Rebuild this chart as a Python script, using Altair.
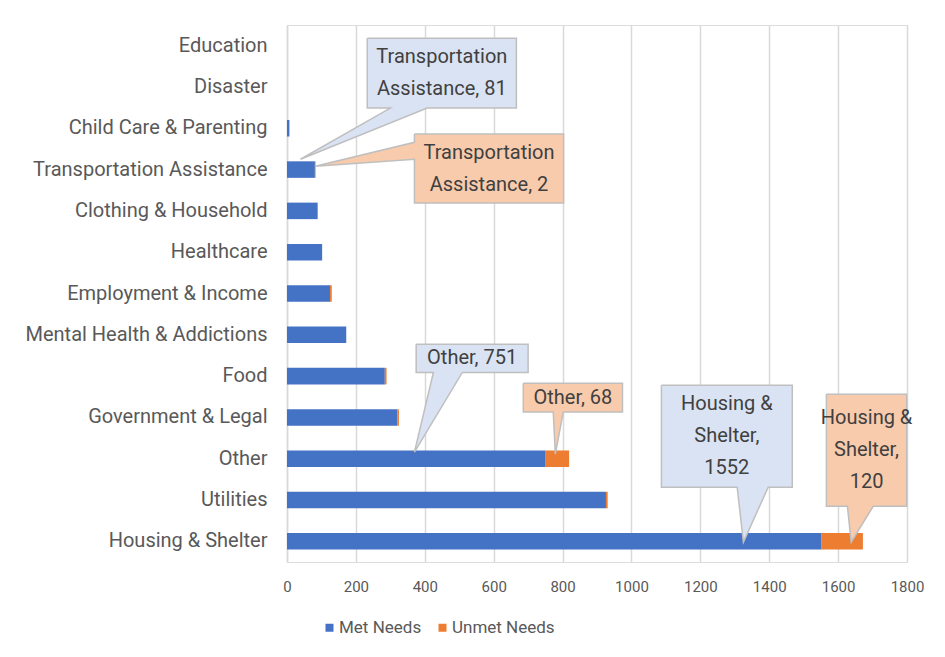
import altair as alt
import pandas as pd

# ---------------- data ----------------
categories = [
    "Education", "Disaster", "Child Care & Parenting", "Transportation Assistance",
    "Clothing & Household", "Healthcare", "Employment & Income",
    "Mental Health & Addictions", "Food", "Government & Legal", "Other",
    "Utilities", "Housing & Shelter",
]
met_needs = [0, 0, 7, 81, 89, 102, 125, 172, 284, 320, 751, 926, 1552]
unmet_needs = [0, 0, 0, 2, 0, 0, 5, 0, 5, 5, 68, 5, 120]
series = ["Met Needs", "Unmet Needs"]
series_colors = ["#4472C4", "#ED7D31"]
x_ticks = [0, 200, 400, 600, 800, 1000, 1200, 1400, 1600, 1800]

# callouts (annotation geometry in data units: x value, category row index)
callout_text = [
    "Transportation\nAssistance, 81",
    "Transportation\nAssistance, 2",
    "Other, 751",
    "Other, 68",
    "Housing &\nShelter,\n1552",
    "Housing &\nShelter,\n120",
]
callout_series = [0, 1, 0, 1, 0, 1]
callout_fill = ["#DAE3F3", "#F8CBAD"]
# box: x0, x1, row0, row1
callout_box = [
    (233, 666, -0.18, 1.51),
    (370, 803, 2.14, 3.81),
    (375, 700, 7.23, 7.91),
    (686, 974, 8.17, 8.87),
    (1087, 1467, 8.22, 10.69),
    (1566, 1799, 8.44, 11.15),
]
# pointer: side ("bottom" or "left"), base a, base b, tip x, tip row
callout_ptr = [
    ("bottom", 300, 407, 39, 2.75),
    ("left", 2.34, 2.75, 82, 2.92),
    ("bottom", 425, 509, 370, 9.84),
    ("bottom", 773, 802, 779, 9.89),
    ("bottom", 1307, 1397, 1325, 12.02),
    ("bottom", 1627, 1702, 1638, 12.02),
]

FONT = "Roboto"
TXT = "#595959"
PLOT_H = 537
ROW_PX = PLOT_H / len(categories)
LINE_H = 32

# ---------------- tables ----------------
rows = []
for i, c in enumerate(categories):
    rows.append({"category": c, "series": series[0], "sidx": 0, "value": met_needs[i]})
    rows.append({"category": c, "series": series[1], "sidx": 1, "value": unmet_needs[i]})
bar_df = pd.DataFrame(rows)

poly_rows = []
text_rows = []
for cid, (box, ptr) in enumerate(zip(callout_box, callout_ptr)):
    x0, x1, r0, r1 = box
    side, a, b, tx, tr = ptr
    if side == "bottom":
        pts = [(x0, r0), (x1, r0), (x1, r1), (b, r1), (tx, tr), (a, r1), (x0, r1), (x0, r0)]
    else:
        pts = [(x0, r0), (x1, r0), (x1, r1), (x0, r1), (x0, b), (tx, tr), (x0, a), (x0, r0)]
    for k, (px, pr) in enumerate(pts):
        poly_rows.append({"cid": cid, "k": k, "px": px, "prow": pr,
                          "fillc": callout_fill[callout_series[cid]]})
    n_lines = callout_text[cid].count("\n") + 1
    text_rows.append({"cid": cid, "tx": (x0 + x1) / 2,
                      "trow": (r0 + r1) / 2 - (n_lines - 1) * (LINE_H / 2) / ROW_PX,
                      "label": callout_text[cid]})
poly_df = pd.DataFrame(poly_rows)
text_df = pd.DataFrame(text_rows)

# ---------------- chart ----------------
x_scale = alt.Scale(domain=[0, 1800], nice=False)
row_scale = alt.Scale(domain=[-0.5, len(categories) - 0.5], reverse=True, nice=False, zero=False)

bars = alt.Chart(bar_df).mark_bar().encode(
    y=alt.Y("category:N", sort=categories, title=None,
            scale=alt.Scale(paddingInner=0.6, paddingOuter=0.3),
            axis=alt.Axis(labelFontSize=20, labelColor=TXT, labelFont=FONT,
                          labelPadding=20, ticks=False, domain=True,
                          domainColor="#D9D9D9", domainWidth=1.5, labelLimit=400)),
    x=alt.X("value:Q", stack="zero", title=None, scale=x_scale,
            axis=alt.Axis(values=x_ticks, format="d", grid=True, gridColor="#D9D9D9",
                          gridWidth=1.5, domain=False, ticks=False, labelFontSize=15,
                          labelColor=TXT, labelFont=FONT, labelPadding=17,
                          labelFlush=False)),
    color=alt.Color("series:N", scale=alt.Scale(domain=series, range=series_colors),
                    legend=alt.Legend(orient="none", legendX=34, legendY=594,
                                      direction="horizontal", title=None,
                                      symbolType="square", symbolSize=64,
                                      symbolStrokeWidth=0, labelFontSize=17,
                                      labelFont=FONT, labelColor=TXT,
                                      columnPadding=12, labelOffset=1)),
    order=alt.Order("sidx:Q"),
)

poly = alt.Chart(poly_df).mark_line(stroke="#BFBFBF", strokeWidth=1.5, interpolate="linear").encode(
    x=alt.X("px:Q", scale=x_scale, title=None),
    y=alt.Y("prow:Q", scale=row_scale, axis=None),
    detail="cid:N",
    order="k:Q",
    fill=alt.Fill("fillc:N", scale=None),
)

texts = alt.Chart(text_df).mark_text(fontSize=20, lineHeight=LINE_H, lineBreak="\n",
                                     color="#404040", font=FONT, baseline="middle",
                                     align="center").encode(
    x=alt.X("tx:Q", scale=x_scale, title=None),
    y=alt.Y("trow:Q", scale=row_scale, axis=None),
    text="label:N",
)

chart = alt.layer(bars, poly, texts).resolve_scale(y="independent").properties(
    width=620, height=PLOT_H,
    autosize=alt.AutoSizeParams(type="none"),
    padding={"left": 279, "top": 17, "right": 20, "bottom": 80},
).configure_view(stroke=None).configure(background="white")

chart.save("out.html", embed_options={"renderer": "svg", "actions": False})
